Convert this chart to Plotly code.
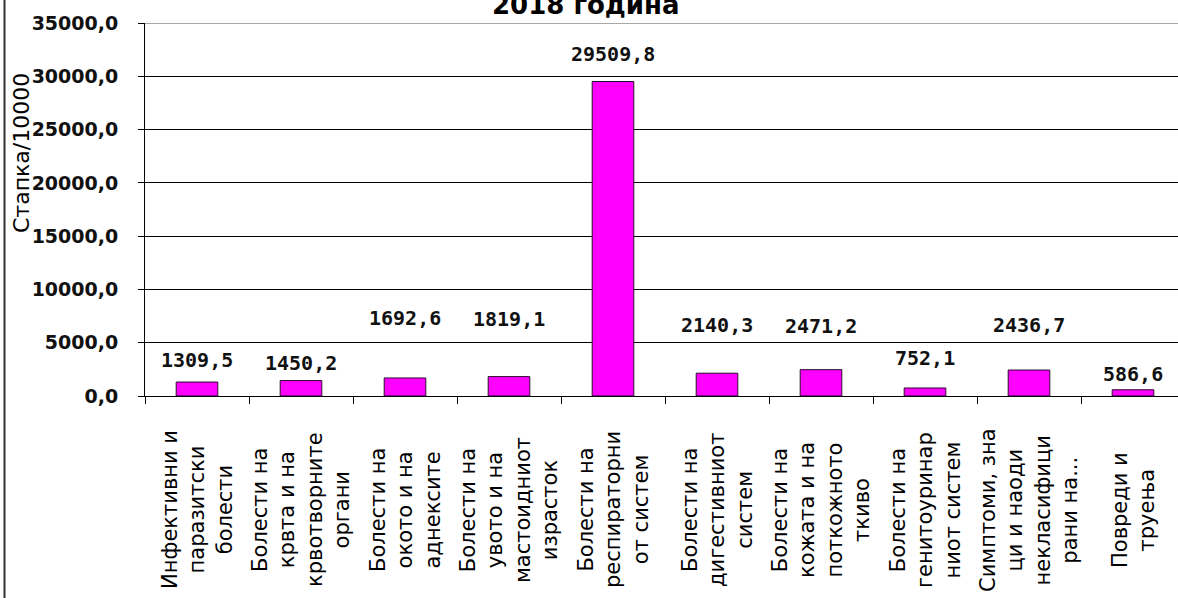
import plotly.graph_objects as go

# ---- data ----
categories = [
    "Инфективни и<br>паразитски<br>болести",
    "Болести на<br>крвта и на<br>крвотворните<br>органи",
    "Болести на<br>окото и на<br>аднексите",
    "Болести на<br>увото и на<br>мастоидниот<br>израсток",
    "Болести на<br>респираторни<br>от систем",
    "Болести на<br>дигестивниот<br>систем",
    "Болести на<br>кожата и на<br>поткожното<br>ткиво",
    "Болести на<br>генитоуринар<br>ниот систем",
    "Симптоми, зна<br>ци и наоди<br>некласифици<br>рани на...",
    "Повреди и<br>труења",
]
values = [1309.5, 1450.2, 1692.6, 1819.1, 29509.8, 2140.3, 2471.2, 752.1, 2436.7, 586.6]
y_ticks = [0, 5000, 10000, 15000, 20000, 25000, 30000, 35000]
title_text = "2018 година"
y_title = "Стапка/10000"

# ---- style ----
label_lift_px = [22, 18, 60, 58, 28, 48, 44, 30, 45, 16]
W, H = 1178, 598
L, R, T, B = 145, 0, 23, 202
plot_w = W - L - R
cat_px = 104.0
x_end = -0.5 + plot_w / cat_px

def fmt(v):
    return f"{v:.1f}".replace(".", ",")

fig = go.Figure()
fig.add_trace(go.Bar(
    x=categories, y=values,
    marker=dict(color="#FF00FF", line=dict(color="#2a0a2a", width=1)),
    hoverinfo="skip",
))

ann = []
for c, v, lift in zip(categories, values, label_lift_px):
    ann.append(dict(
        x=c, y=v, xref="x", yref="y", text=fmt(v), showarrow=False,
        yanchor="middle", yshift=lift,
        font=dict(family="DejaVu Sans Mono", size=20, color="#111111", weight="bold"),
    ))
for c in categories:
    ann.append(dict(
        x=c, y=0, xref="x", yref="paper", text=c, showarrow=False,
        textangle=-90, align="center", xanchor="center", yanchor="middle",
        yshift=-114,
        font=dict(family="DejaVu Sans", size=21, color="#000000"),
    ))
# title
ann.append(dict(
    x=(586 - L) / plot_w, y=1, xref="paper", yref="paper", text=title_text,
    showarrow=False, xanchor="center", yanchor="bottom", yshift=1,
    font=dict(family="DejaVu Sans", size=26, color="#000000", weight="bold"),
))
# y-axis title
ann.append(dict(
    x=(21 - L) / plot_w, y=(H - B - 153) / (H - T - B), xref="paper", yref="paper",
    text=y_title, showarrow=False, textangle=-90, xanchor="center", yanchor="middle",
    font=dict(family="DejaVu Sans", size=22, color="#000000"),
))

fig.update_layout(
    width=W, height=H,
    margin=dict(l=L, r=R, t=T, b=B, autoexpand=False),
    paper_bgcolor="white", plot_bgcolor="white",
    bargap=0.6, showlegend=False,
    separators=", ",
    annotations=ann,
    shapes=[
        dict(type="line", xref="paper", yref="paper",
             x0=(4.5 - L) / plot_w, x1=(4.5 - L) / plot_w, y0=-1, y1=2,
             line=dict(color="#333333", width=2)),
        dict(type="line", xref="paper", yref="y", x0=0, x1=1, y0=35000, y1=35000,
             line=dict(color="#8a8a8a", width=1.5)),
    ],
)
fig.update_xaxes(
    range=[-0.5, x_end], showticklabels=False,
    showline=True, linecolor="black", linewidth=1,
    ticks="outside", ticklen=7, tickcolor="black", tickson="boundaries",
    showgrid=False, fixedrange=True,
)
fig.update_yaxes(
    range=[0, 35000], tickvals=y_ticks, tickformat=".1f",
    showline=True, linecolor="black", linewidth=1,
    ticks="outside", ticklen=6, tickcolor="black",
    ticklabelstandoff=16,
    showgrid=True, gridcolor="black", gridwidth=1,
    zeroline=False,
    tickfont=dict(family="DejaVu Sans", size=19, color="#111111", weight="bold"),
    fixedrange=True,
)

fig.write_html(
    "out.html",
    config={"displayModeBar": False},
    post_script="document.body.style.margin='0';document.body.style.overflow='hidden';",
)
